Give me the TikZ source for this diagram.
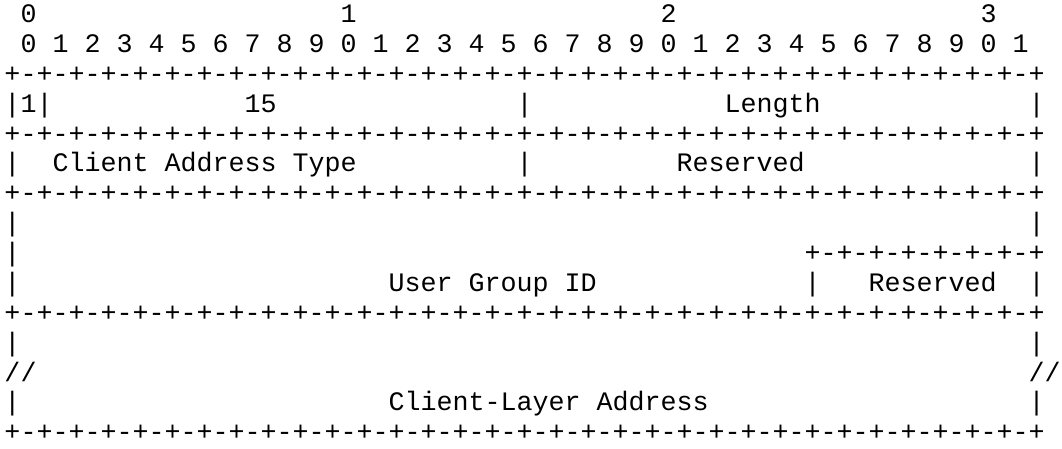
\documentclass[tikz,border=0pt]{standalone}
\usepackage{fontspec}
\newfontfamily\rfcmono{Liberation Mono}
\tikzset{txt/.style={inner sep=0pt, outer sep=0pt, anchor=base west,
  font=\rfcmono\fontsize{26.67pt}{29.87pt}\selectfont}}
\newcommand\cellx{16pt}
\newcommand\rfctext[4]{\node[txt] (#1) at ({4.5pt+16pt*#2},{-22.6pt-29.87pt*#3}) {#4};}
\newcommand\rfcborder{+-+-+-+-+-+-+-+-+-+-+-+-+-+-+-+-+-+-+-+-+-+-+-+-+-+-+-+-+-+-+-+-+}
\begin{document}
\begin{tikzpicture}
\useasboundingbox (0,0) rectangle (1062pt,-448pt);
% ruler
\rfctext{h0}{1}{0}{0}
\rfctext{h1}{21}{0}{1}
\rfctext{h2}{41}{0}{2}
\rfctext{h3}{61}{0}{3}
\rfctext{bits}{1}{1}{0 1 2 3 4 5 6 7 8 9 0 1 2 3 4 5 6 7 8 9 0 1 2 3 4 5 6 7 8 9 0 1}
\rfctext{b2}{0}{2}{\rfcborder}
% row: 1 | 15 | Length
\rfctext{r3a}{0}{3}{|1|}
\rfctext{r3b}{15}{3}{15}
\rfctext{r3c}{32}{3}{|}
\rfctext{r3d}{45}{3}{Length}
\rfctext{r3e}{64}{3}{|}
\rfctext{b4}{0}{4}{\rfcborder}
% row: Client Address Type | Reserved
\rfctext{r5a}{0}{5}{|}
\rfctext{r5b}{3}{5}{Client Address Type}
\rfctext{r5c}{32}{5}{|}
\rfctext{r5d}{42}{5}{Reserved}
\rfctext{r5e}{64}{5}{|}
\rfctext{b6}{0}{6}{\rfcborder}
% User Group ID block
\rfctext{r7a}{0}{7}{|}
\rfctext{r7b}{64}{7}{|}
\rfctext{r8a}{0}{8}{|}
\rfctext{r8b}{50}{8}{+-+-+-+-+-+-+-+}
\rfctext{r9a}{0}{9}{|}
\rfctext{r9b}{24}{9}{User Group ID}
\rfctext{r9c}{50}{9}{|}
\rfctext{r9d}{54}{9}{Reserved}
\rfctext{r9e}{64}{9}{|}
\rfctext{b10}{0}{10}{\rfcborder}
% Client-Layer Address block
\rfctext{r11a}{0}{11}{|}
\rfctext{r11b}{64}{11}{|}
\rfctext{r12a}{0}{12}{//}
\rfctext{r12b}{64}{12}{//}
\rfctext{r13a}{0}{13}{|}
\rfctext{r13b}{24}{13}{Client-Layer Address}
\rfctext{r13c}{64}{13}{|}
\rfctext{b14}{0}{14}{\rfcborder}
\end{tikzpicture}
\end{document}
